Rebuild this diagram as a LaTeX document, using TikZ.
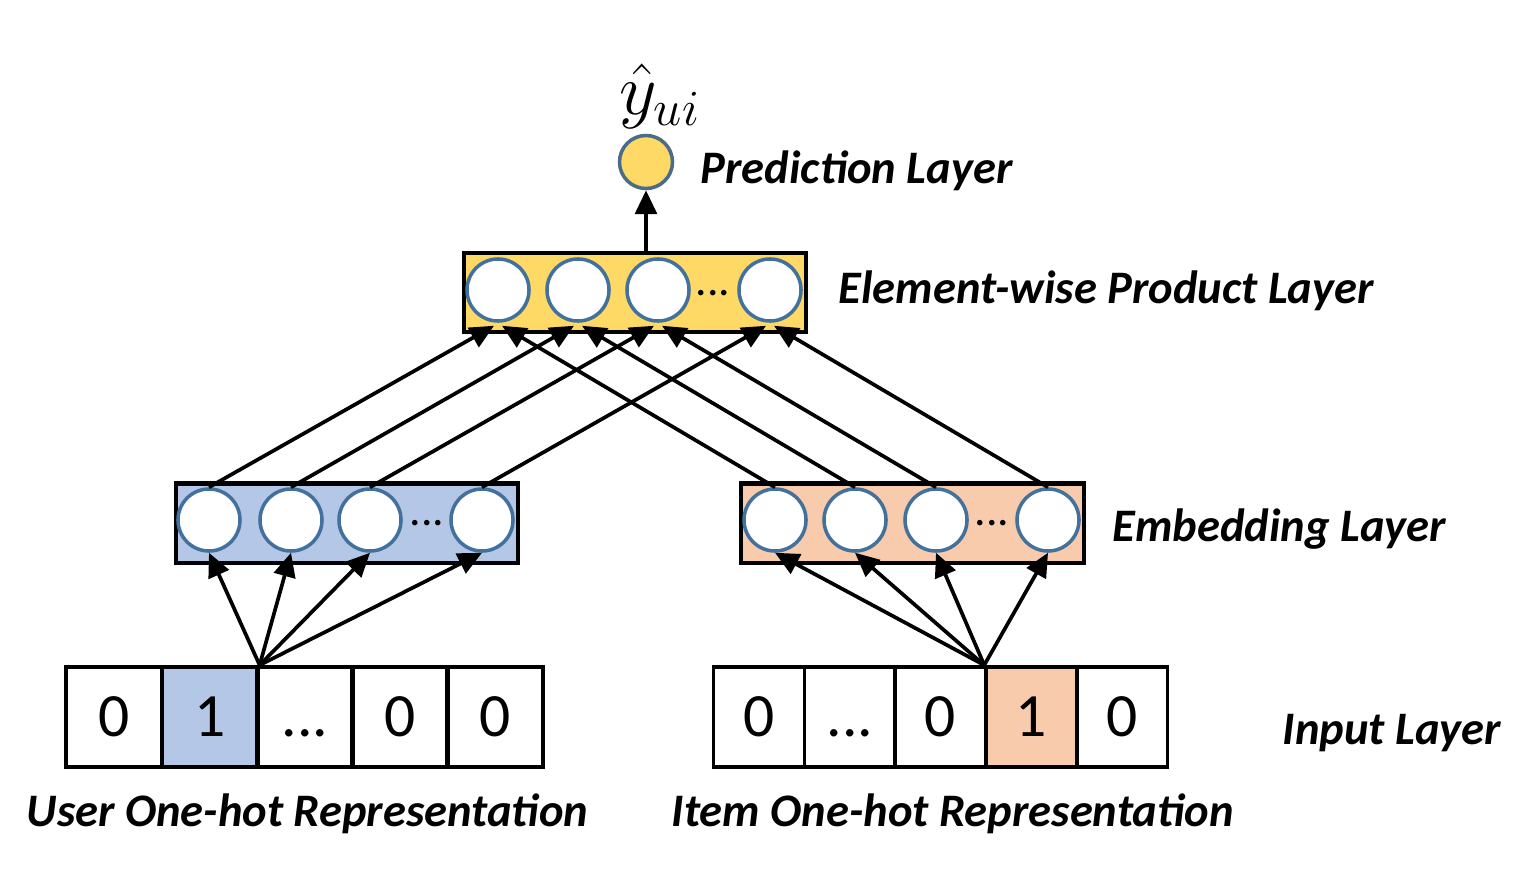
\documentclass[tikz,border=0pt]{standalone}
\usepackage{fontspec}
\setmainfont{Carlito}
\usetikzlibrary{arrows.meta,calc}
\definecolor{prodyellow}{HTML}{FFD966}
\definecolor{userblue}{HTML}{B4C7E7}
\definecolor{itempeach}{HTML}{F8CBAD}
\definecolor{ringblue}{HTML}{41719C}
\definecolor{predring}{HTML}{4A6B8A}
\tikzset{
  layerbox/.style={draw=black, line width=1.15pt, minimum width=3.42cm, minimum height=0.79cm, inner sep=0pt},
  unit/.style={circle, draw=ringblue, fill=white, line width=1pt, minimum size=0.62cm, inner sep=0pt},
  cell/.style={draw=black, line width=1.05pt, minimum height=1.0cm, inner sep=0pt,
    text height=0.38cm, text depth=0pt, font=\fontsize{17.5}{20}\selectfont},
  ucell/.style={cell, minimum width=0.955cm},
  icell/.style={cell, minimum width=0.908cm},
  arr/.style={line width=1.05pt, -{Triangle[length=6.8pt,width=6.2pt]}},
  lbl/.style={anchor=base west, inner sep=0pt, font=\fontsize{13.25}{16}\selectfont\bfseries\itshape},
  dots/.style={inner sep=0pt, font=\fontsize{13}{15}\selectfont}
}
\begin{document}
\begin{tikzpicture}[x=0.01cm, y=-0.01cm]
\useasboundingbox (0,0) rectangle (1524,870);

% prediction
\node[circle, draw=predring, fill=prodyellow, line width=1pt, minimum size=0.53cm, inner sep=0pt] (pred) at (646,162) {};
\node[inner sep=0pt] (yhat) at (660,96) {\fontsize{20}{24}\selectfont$\hat{y}_{ui}$};
\node[lbl] (predlbl) at (700,183) {Prediction Layer};

% element-wise product layer
\node[layerbox, fill=prodyellow] (pb) at (635,292.5) {};
\node[unit] (p1) at (498,290) {};
\node[unit] (p2) at (578,290) {};
\node[unit] (p3) at (658,290) {};
\node[unit] (p4) at (770,290) {};
\node[dots] (pd) at (713,293) {...};
\node[lbl] (prodlbl) at (838,304) {Element-wise Product Layer};

% embedding layers
\node[layerbox, fill=userblue] (lb) at (347,523) {};
\node[unit] (le1) at (209,520) {};
\node[unit] (le2) at (291,520) {};
\node[unit] (le3) at (370,520) {};
\node[unit] (le4) at (482,520) {};
\node[dots] (ld) at (427,523) {...};

\node[layerbox, fill=itempeach, minimum width=3.43cm] (rb) at (912.5,523) {};
\node[unit] (re1) at (775,520) {};
\node[unit] (re2) at (855,520) {};
\node[unit] (re3) at (936,520) {};
\node[unit] (re4) at (1048,520) {};
\node[dots] (rd) at (992,523) {...};
\node[lbl] (emblbl) at (1112,541) {Embedding Layer};

% input layer
\node[ucell] (u1) at (114,717) {0};
\node[ucell, fill=userblue] (u2) at (210,717) {1};
\node[ucell] (u3) at (305,717) {...};
\node[ucell] (u4) at (400,717) {0};
\node[ucell] (u5) at (495,717) {0};

\node[icell] (i1) at (759,717) {0};
\node[icell] (i2) at (850,717) {...};
\node[icell] (i3) at (940.5,717) {0};
\node[icell, fill=itempeach] (i4) at (1031.5,717) {1};
\node[icell] (i5) at (1122,717) {0};

\node[lbl] (inlbl) at (1282,744) {Input Layer};
\node[lbl] (userlbl) at (26,826) {User One-hot Representation};
\node[lbl] (itemlbl) at (671,826) {Item One-hot Representation};

% input -> embedding
\foreach \k in {1,...,4} {
  \draw[arr] (u2.north east) -- (le\k.south);
  \draw[arr] (i4.north west) -- (re\k.south);
}

% embedding -> product
\foreach \k in {1,...,4} {
  \draw[arr] (le\k.north) -- ($(p\k.south)+(-4,3)$);
  \draw[arr] (re\k.north) -- ($(p\k.south)+(4,3)$);
}

% product -> prediction
\draw[arr] (pred.south |- pb.north) -- (pred.south);
\end{tikzpicture}
\end{document}
